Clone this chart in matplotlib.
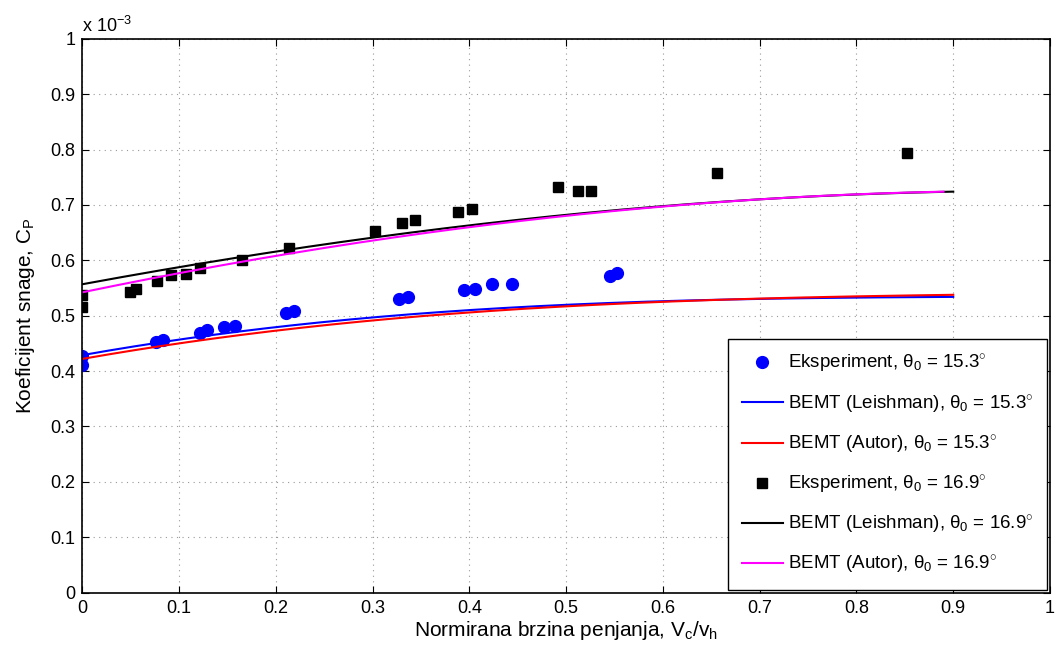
import matplotlib
matplotlib.use('Agg')
import matplotlib.pyplot as plt
import numpy as np
from matplotlib.ticker import FuncFormatter

plt.rcParams['font.family'] = ['Liberation Sans', 'DejaVu Sans']
plt.rcParams['mathtext.fontset'] = 'custom'
plt.rcParams['mathtext.rm'] = 'Liberation Sans'
plt.rcParams['mathtext.it'] = 'Liberation Sans'
plt.rcParams['mathtext.sf'] = 'Liberation Sans'

# values in units of 1e-3
x_exp_153 = [0, 0, 0.076, 0.083, 0.121, 0.129, 0.146, 0.158, 0.210, 0.219,
             0.327, 0.336, 0.394, 0.406, 0.423, 0.444, 0.545, 0.552]
cp_exp_153 = [0.428, 0.411, 0.452, 0.456, 0.469, 0.474, 0.480, 0.482, 0.504, 0.509,
              0.530, 0.533, 0.547, 0.548, 0.558, 0.557, 0.572, 0.577]

x_exp_169 = [0, 0, 0.049, 0.055, 0.077, 0.091, 0.107, 0.121, 0.165, 0.213,
             0.302, 0.330, 0.344, 0.388, 0.403, 0.491, 0.512, 0.526, 0.656, 0.852]
cp_exp_169 = [0.537, 0.516, 0.542, 0.548, 0.562, 0.573, 0.575, 0.587, 0.601, 0.622,
              0.653, 0.667, 0.673, 0.688, 0.693, 0.732, 0.725, 0.725, 0.758, 0.794]

x_bemt = [0, 0.1, 0.2, 0.3, 0.4, 0.5, 0.6, 0.7, 0.8, 0.9]
x_bemt_m = [0, 0.1, 0.2, 0.3, 0.4, 0.5, 0.6, 0.7, 0.8, 0.89]
cp_leish_153 = [0.428, 0.458, 0.480, 0.497, 0.509, 0.519, 0.526, 0.531, 0.534, 0.533]
cp_autor_153 = [0.421, 0.452, 0.473, 0.491, 0.505, 0.517, 0.525, 0.531, 0.536, 0.537]
cp_leish_169 = [0.558, 0.585, 0.617, 0.641, 0.664, 0.682, 0.697, 0.710, 0.719, 0.724]
cp_autor_169 = [0.543, 0.575, 0.609, 0.636, 0.660, 0.680, 0.697, 0.710, 0.719, 0.724]

def smooth(xs, ys):
    xx = np.linspace(xs[0], xs[-1], 200)
    c = np.polyfit(xs, ys, 3)
    return xx, np.polyval(c, xx) * 1e-3

fig = plt.figure(figsize=(10.59, 6.56), dpi=100)
ax = fig.add_axes([0.0779, 0.0965, 0.9136, 0.8445])

s = 1e-3
ax.plot(x_exp_153, np.array(cp_exp_153) * s, 'o', color='#0000ff', markersize=8.5,
        label=r'Eksperiment, $\theta_0$ = 15.3$^{\circ}$')
xx, yy = smooth(x_bemt, cp_leish_153)
ax.plot(xx, yy, color='#0000ff', lw=1.5, label=r'BEMT (Leishman), $\theta_0$ = 15.3$^{\circ}$')
xx, yy = smooth(x_bemt, cp_autor_153)
ax.plot(xx, yy, color='#ff0000', lw=1.5, label=r'BEMT (Autor), $\theta_0$ = 15.3$^{\circ}$')
ax.plot(x_exp_169, np.array(cp_exp_169) * s, 's', color='black', markersize=6.5,
        label=r'Eksperiment, $\theta_0$ = 16.9$^{\circ}$')
xx, yy = smooth(x_bemt, cp_leish_169)
ax.plot(xx, yy, color='black', lw=1.5, label=r'BEMT (Leishman), $\theta_0$ = 16.9$^{\circ}$')
xx, yy = smooth(x_bemt_m, cp_autor_169)
ax.plot(xx, yy, color='#ff00ff', lw=1.5, label=r'BEMT (Autor), $\theta_0$ = 16.9$^{\circ}$')

ax.set_xlim(0, 1)
ax.set_ylim(0, 1e-3)
ax.set_xticks(np.arange(0, 1.01, 0.1))
ax.set_yticks(np.arange(0, 1.01e-3, 0.1e-3))
ax.xaxis.set_major_formatter(FuncFormatter(lambda v, p: f'{v:g}'))
ax.yaxis.set_major_formatter(FuncFormatter(lambda v, p: f'{round(v * 1e3, 2):g}'))
ax.tick_params(direction='in', labelsize=13, length=5, top=True, right=True, pad=5)
ax.grid(True, linestyle=(0, (1, 4)), color='#999999', linewidth=0.8)
for sp in ax.spines.values():
    sp.set_linewidth(1.2)

ax.set_xlabel(r'Normirana brzina penjanja, V$_c$/v$_h$', fontsize=15, labelpad=2)
ax.set_ylabel(r'Koeficijent snage, C$_P$', fontsize=15, labelpad=10)
ax.text(0.0, 1.005, r'x 10$^{-3}$', transform=ax.transAxes, fontsize=13,
        ha='left', va='bottom')

leg = ax.legend(loc='lower right', fontsize=13.5, handlelength=2.2, labelspacing=0.95,
                borderaxespad=0.15, fancybox=False, edgecolor='black', framealpha=1,
                handletextpad=0.25, borderpad=0.75)
leg.get_frame().set_linewidth(1.0)

fig.savefig('out.png', dpi=100)
